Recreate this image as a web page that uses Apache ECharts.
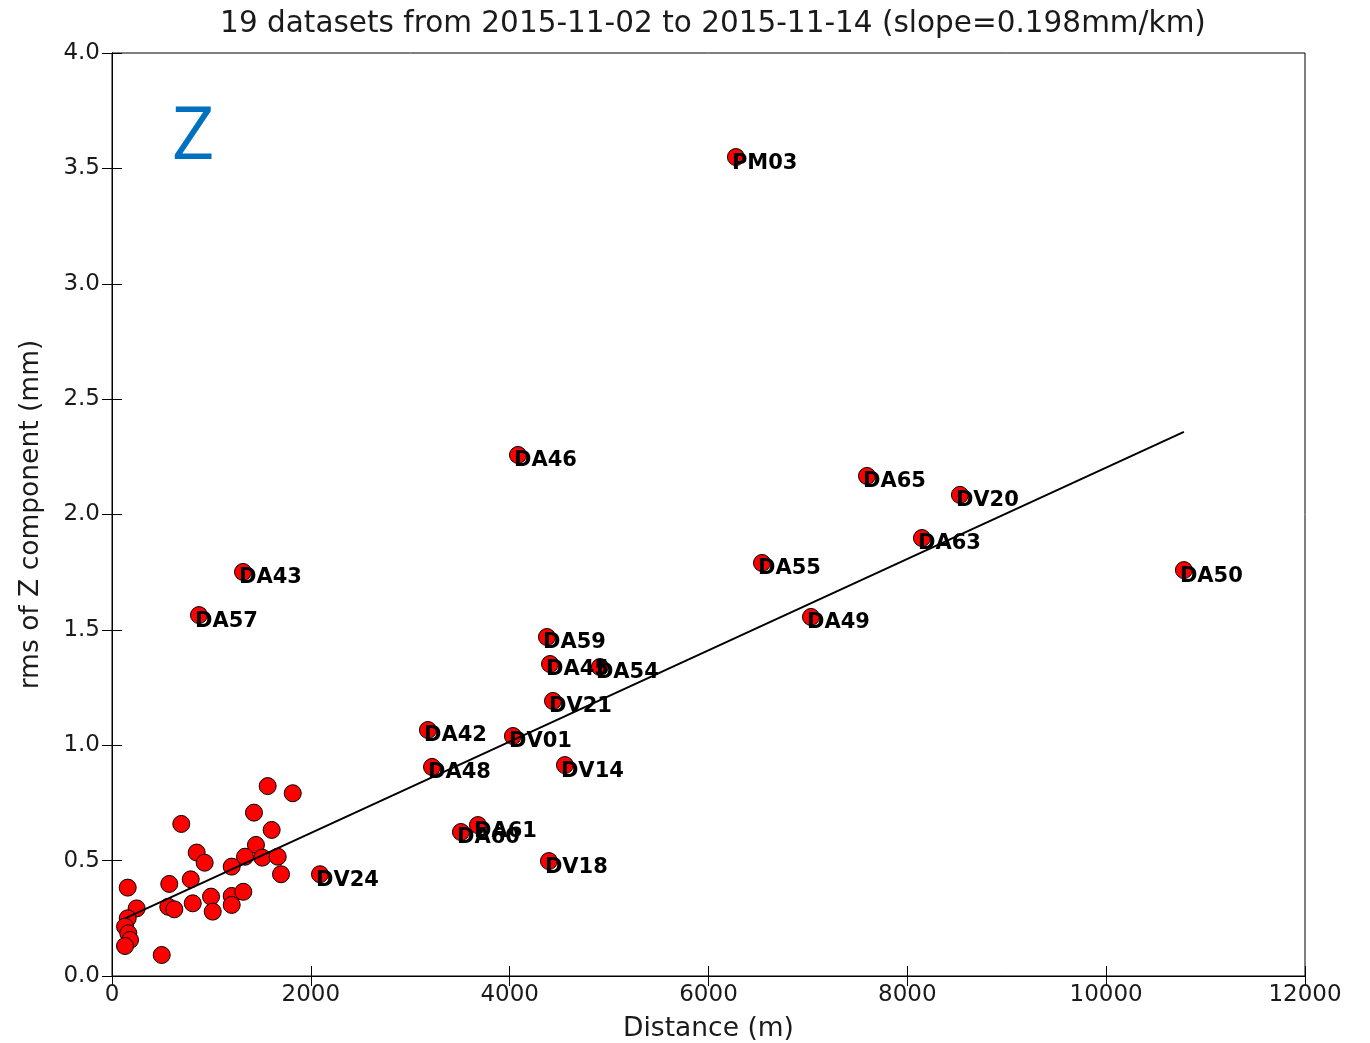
<!DOCTYPE html>
<html>
<head>
<meta charset="utf-8">
<script src="https://cdn.jsdelivr.net/npm/echarts@6/dist/echarts.min.js"></script>
<style>
html, body { margin: 0; padding: 0; background: #fff; }
#chart { width: 1370px; height: 1043px; }
</style>
</head>
<body>
<div id="chart"></div>
<script>
// labelled stations
var stationNames = ['PM03', 'DA46', 'DA65', 'DV20', 'DA63', 'DA55', 'DA50', 'DA43', 'DA57', 'DA49',
    'DA59', 'DA45', 'DA54', 'DV21', 'DA42', 'DV01', 'DA48', 'DV14', 'DA61', 'DA60', 'DV18', 'DV24'];
var stationDist = [6276, 4084, 7594, 8529, 8147, 6538, 10782, 1318, 875, 7031,
    4375, 4406, 4908, 4436, 3178, 4033, 3219, 4556, 3681, 3510, 4395, 2092];
var stationRms = [3.549, 2.258, 2.167, 2.085, 1.898, 1.790, 1.759, 1.751, 1.564, 1.556,
    1.469, 1.352, 1.339, 1.192, 1.066, 1.040, 0.906, 0.914, 0.654, 0.624, 0.498, 0.441];

// unlabelled points near the source
var otherDist = [1566, 1818, 697, 1428, 1606, 852, 932, 1448, 1338, 1512, 1667, 1204, 1700,
    158, 576, 792, 248, 566, 627, 812, 996, 1013, 1204, 1204, 1321, 158, 131, 164, 181, 131, 500];
var otherRms = [0.823, 0.792, 0.659, 0.708, 0.633, 0.535, 0.491, 0.568, 0.517, 0.513, 0.517, 0.474, 0.441,
    0.383, 0.399, 0.419, 0.293, 0.300, 0.289, 0.315, 0.344, 0.279, 0.347, 0.308, 0.365, 0.250, 0.214, 0.185, 0.156, 0.130, 0.091];

// fitted line end points (slope 0.198 mm/km)
var fitDist = [131, 10782];
var fitRms = [0.25, 2.358];

var font = 'DejaVu Sans';
var myChart = echarts.init(document.getElementById('chart'));

var stationData = [];
for (var i = 0; i < stationNames.length; i++) {
    stationData.push({ name: stationNames[i], value: [stationDist[i], stationRms[i]] });
}
var otherData = [];
for (var j = 0; j < otherDist.length; j++) {
    otherData.push([otherDist[j], otherRms[j]]);
}
var fitData = [];
for (var k = 0; k < fitDist.length; k++) {
    fitData.push([fitDist[k], fitRms[k]]);
}

var tickCommon = { show: true, inside: true, length: 10, lineStyle: { color: '#000', width: 1 } };

var option = {
    animation: false,
    title: {
        text: '19 datasets from 2015-11-02 to 2015-11-14 (slope=0.198mm/km)',
        left: 708, top: 4, textAlign: 'center',
        textStyle: { fontFamily: font, fontSize: 29.5, fontWeight: 'normal', color: '#1a1a1a' }
    },
    graphic: [{
        type: 'text', left: 172, top: 101,
        style: { text: 'Z', font: '74px "Open Sans"', fill: '#0070c0' }
    }],
    grid: {
        left: 112, right: 65, top: 53, bottom: 67, outerBoundsMode: 'none',
        show: true, borderColor: '#000', borderWidth: 1
    },
    xAxis: [{
        type: 'value', min: 0, max: 12000, interval: 2000,
        name: 'Distance (m)', nameLocation: 'middle', nameGap: 40,
        nameTextStyle: { fontFamily: font, fontSize: 26.5, color: '#1a1a1a' },
        axisLine: { show: true, lineStyle: { color: '#000' } },
        axisTick: tickCommon,
        axisLabel: {
            fontFamily: font, fontSize: 23, color: '#1a1a1a', margin: 8,
            formatter: function (v) { return String(v); }
        },
        splitLine: { show: false }
    }, {
        type: 'value', position: 'top', min: 0, max: 12000, interval: 2000,
        axisLine: { show: true, lineStyle: { color: '#000' } },
        axisTick: tickCommon, axisLabel: { show: false }, splitLine: { show: false }
    }],
    yAxis: [{
        type: 'value', min: 0, max: 4, interval: 0.5,
        name: 'rms of Z component (mm)', nameLocation: 'middle', nameGap: 67, nameRotate: 90,
        nameTextStyle: { fontFamily: font, fontSize: 26.5, color: '#1a1a1a' },
        axisLine: { show: true, lineStyle: { color: '#000' } },
        axisTick: tickCommon,
        axisLabel: {
            fontFamily: font, fontSize: 23, color: '#1a1a1a', margin: 12,
            formatter: function (v) { return v.toFixed(1); }
        },
        splitLine: { show: false }
    }, {
        type: 'value', position: 'right', min: 0, max: 4, interval: 0.5,
        axisLine: { show: true, lineStyle: { color: '#000' } },
        axisTick: tickCommon, axisLabel: { show: false }, splitLine: { show: false }
    }],
    series: [{
        type: 'scatter', data: otherData, symbolSize: 17, z: 2,
        itemStyle: { color: '#ff0000', borderColor: '#000', borderWidth: 1, opacity: 1 }
    }, {
        type: 'scatter', data: stationData, symbolSize: 17, z: 2,
        itemStyle: { color: '#ff0000', borderColor: '#000', borderWidth: 1, opacity: 1 },
        label: {
            show: true, position: [5, 15], align: 'left', verticalAlign: 'middle',
            formatter: '{b}', fontFamily: font, fontWeight: 'bold', fontSize: 21, color: '#000'
        }
    }, {
        type: 'line', data: fitData, symbol: 'none', z: 3,
        lineStyle: { color: '#000', width: 2 }
    }]
};

myChart.setOption(option);
</script>
</body>
</html>
